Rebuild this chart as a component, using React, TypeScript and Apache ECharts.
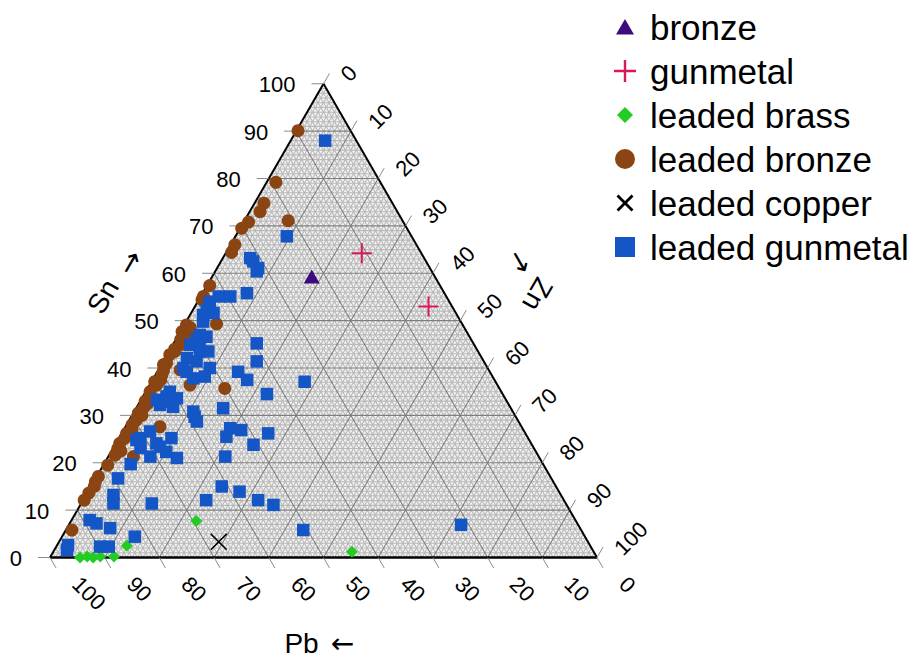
import { useEffect, useRef } from "react";
import * as echarts from "echarts";

// Alloy groups, in drawing order
const SERIES_NAMES = [
  "bronze",
  "gunmetal",
  "leaded brass",
  "leaded bronze",
  "leaded copper",
  "leaded gunmetal",
];

// Compositions as [Sn, Zn] in percent; Pb is the remainder
const bronze = [[59.3, 18.2]];
const gunmetal = [
  [64.2, 24.9],
  [53.0, 42.7],
];
const leadedBrass = [
  [7.7, 22.9], [2.5, 12.8], [1.9, 8.1], [0.0, 5.5], [0.2, 6.7],
  [0.0, 7.9], [0.2, 9.1], [0.2, 11.6], [1.2, 54.6],
];
const leadedBronze = [
  [90.1, 0.3], [79.2, 1.7], [74.8, 1.7], [73.0, 1.9], [71.1, 8.0],
  [70.8, 0.9], [69.5, 0.3], [66.0, 0.8], [64.4, 1.0], [57.4, 0.5],
  [55.1, 0.5], [54.4, 0.6], [49.3, 5.8], [49.1, 0.4], [48.5, 1.4],
  [47.7, 0.3], [47.0, 2.4], [46.0, 0.9], [45.0, 1.6], [44.0, 0.8],
  [43.5, 1.1], [42.8, 0.5], [41.0, 0.8], [40.7, 0.4], [39.6, 4.0],
  [39.5, 1.0], [38.5, 1.2], [37.5, 1.5], [37.1, 0.6], [36.4, 1.3],
  [36.4, 7.4], [35.7, 14.1], [35.0, 0.8], [34.0, 1.3], [33.0, 0.9],
  [32.5, 1.6], [31.5, 1.3], [30.5, 0.9], [30.0, 1.8], [29.0, 1.3],
  [28.0, 1.0], [27.6, 6.3], [27.0, 1.5], [26.2, 0.9], [25.2, 1.1],
  [24.1, 0.7], [23.0, 0.9], [22.5, 1.7], [21.6, 1.1], [21.3, 4.6],
  [19.5, 0.8], [17.1, 0.3], [16.0, 0.3], [15.0, 0.6], [13.6, 0.3],
  [12.1, 0.2], [5.8, 1.1],
];
const leadedCopper = [[3.3, 29.2]];
const leadedGunmetal = [
  [88.0, 6.3], [67.8, 9.4], [63.2, 5.0], [62.5, 5.9], [61.1, 7.5],
  [60.4, 7.6], [55.8, 8.1], [55.1, 5.4], [55.1, 3.3], [54.0, 2.2],
  [52.3, 2.5], [51.6, 4.1], [51.2, 2.4], [49.8, 3.1], [47.0, 3.9],
  [46.6, 5.3], [45.9, 3.8], [44.9, 3.2], [44.5, 5.1], [43.5, 5.7],
  [43.5, 7.2], [42.1, 4.0], [41.4, 6.1], [40.0, 9.2], [40.0, 4.4],
  [39.2, 5.4], [38.2, 9.2], [37.8, 7.3], [45.2, 15.2], [41.4, 17.1],
  [39.2, 14.8], [37.5, 17.3], [37.1, 28.0], [34.5, 22.4], [31.5, 15.9],
  [30.8, 10.8], [29.7, 11.6], [28.7, 12.5], [35.0, 4.4], [33.6, 6.4],
  [32.9, 4.2], [32.2, 4.0], [31.8, 6.6], [33.3, 2.9], [34.0, 4.3],
  [27.3, 19.3], [26.9, 21.5], [25.5, 19.5], [23.8, 25.3], [26.2, 26.8],
  [21.3, 21.4], [25.2, 3.9], [26.6, 5.0], [24.1, 7.4], [22.3, 10.1],
  [21.3, 7.7], [21.0, 12.7], [25.2, 9.6], [23.4, 8.4], [23.1, 5.0],
  [24.8, 3.4], [19.7, 4.9], [16.7, 4.1], [13.2, 5.0], [11.4, 5.9],
  [11.4, 12.9], [12.1, 22.5], [15.0, 23.9], [13.9, 27.7], [12.1, 32.0],
  [11.1, 35.3], [5.8, 43.4], [6.9, 71.7], [7.9, 3.3], [7.2, 4.9],
  [6.2, 7.9], [4.4, 13.3], [2.6, 2.0], [1.6, 2.3], [2.3, 8.0], [2.3, 9.6],
];

// Tick values shared by the three composition axes
const TICK_VALUES = [0, 10, 20, 30, 40, 50, 60, 70, 80, 90, 100];

// Axis titles and their direction arrows
const SN_TITLE = "Sn";
const PB_TITLE = "Pb";
const ZN_TITLE = "Zn";
const ARROW_RIGHT = "\u2192";
const ARROW_LEFT = "\u2190";

// Page and triangle geometry (pixels)
const W = 922;
const H = 661;
const ORIGIN_X = 50; // Pb = 100 corner
const ORIGIN_Y = 557.5;
const SIDE = 547;
const UX = SIDE / 100;
const UY = (SIDE * Math.sqrt(3)) / 2 / 100;

const FONT = '"Liberation Sans", Arial, Helvetica, sans-serif';
const ARROW_FONT = '"DejaVu Sans", sans-serif';

// ternary [Sn, Zn] -> cartesian [x, y] with x along the Pb–Zn side, y = Sn
const toXY = (d: number[]) => [d[1] + d[0] / 2, d[0]];

// Marker shapes
const SQUARE = "path://M0,0H10V10H0Z";
const TRIANGLE = "path://M5,0L10,8.7L0,8.7Z";
const DIAMOND = "path://M5,0L10,5L5,10L0,5Z";
const PLUS = "path://M4.5,0H5.5V4.5H10V5.5H5.5V10H4.5V5.5H0V4.5H4.5Z";
const CROSS =
  "path://M0,0.62L0.62,0L5,4.38L9.38,0L10,0.62L5.62,5L10,9.38L9.38,10L5,5.62L0.62,10L0,9.38L4.38,5Z";

// Legend icons drawn inside a 22x22 box
const LEGEND_ICONS = [
  "path://M0,0M22,22M11,3L20,18.5L2,18.5Z",
  "path://M9.8,0H12.2V9.8H22V12.2H12.2V22H9.8V12.2H0V9.8H9.8Z",
  "path://M0,0M22,22M11,3L19,11L11,19L3,11Z",
  "path://M0,0M22,22M11,1A10,10 0 1 1 11,21A10,10 0 1 1 11,1Z",
  "path://M0,0M22,22M2.5,4.5L4.5,2.5L11,9L17.5,2.5L19.5,4.5L13,11L19.5,17.5L17.5,19.5L11,13L4.5,19.5L2.5,17.5L9,11Z",
  "path://M0,0M22,22M1,1H21V21H1Z",
];

const COLORS = ["#3c0c7c", "#d81a5a", "#22cc22", "#8b4513", "#000000", "#1456c6"];

function renderFrame(_params: any, api: any) {
  const P = (sn: number, zn: number) => api.coord([zn + sn / 2, sn]);
  const kids: any[] = [];
  const seg = (a: number[], b: number[], stroke: string, lineWidth: number) => ({
    type: "line",
    shape: { x1: a[0], y1: a[1], x2: b[0], y2: b[1] },
    style: { stroke, lineWidth },
  });

  const A = P(0, 0); // Pb corner
  const B = P(0, 100); // Zn corner
  const C = P(100, 0); // Sn corner

  kids.push({ type: "polygon", shape: { points: [A, B, C] }, style: { fill: "#f2f2f2" } });

  // fine grid
  for (let v = 1; v < 100; v++) {
    if (v % 10 === 0) continue;
    const st = "#b9b9b9";
    kids.push(seg(P(v, 0), P(v, 100 - v), st, 1.1));
    kids.push(seg(P(0, v), P(100 - v, v), st, 1.1));
    kids.push(seg(P(0, 100 - v), P(100 - v, 0), st, 1.1));
  }
  // main grid
  for (let v = 10; v < 100; v += 10) {
    const st = "#7e7e7e";
    kids.push(seg(P(v, 0), P(v, 100 - v), st, 1.1));
    kids.push(seg(P(0, v), P(100 - v, v), st, 1.1));
    kids.push(seg(P(0, 100 - v), P(100 - v, 0), st, 1.1));
  }
  // outline
  kids.push(seg(A, C, "#000", 2));
  kids.push(seg(C, B, "#000", 2));
  kids.push(seg(A, B, "#000", 2.5));

  const TL = 12;
  const s3 = Math.sqrt(3) / 2;
  const label = (x: number, y: number, text: string, rotation: number, align: string) => ({
    type: "text",
    x,
    y,
    rotation,
    style: {
      text,
      fill: "#000",
      fontSize: 22,
      fontFamily: FONT,
      align,
      verticalAlign: "middle",
    },
  });

  TICK_VALUES.forEach((v) => {
    // Sn: left side, horizontal ticks
    const s = P(v, 0);
    kids.push(seg(s, [s[0] - TL, s[1]], "#8a8a8a", 1));
    kids.push(label(s[0] - 28, s[1] + 1, String(v), 0, "right"));
    // Zn: right side, ticks up-right
    const z = P(100 - v, v);
    kids.push(seg(z, [z[0] + TL * 0.5, z[1] - TL * s3], "#8a8a8a", 1));
    kids.push(label(z[0] + 21, z[1] - 6, String(v), Math.PI / 4, "left"));
    // Pb: bottom, ticks down-right
    const b = P(0, 100 - v);
    kids.push(seg(b, [b[0] + TL * 0.5, b[1] + TL * s3], "#8a8a8a", 1));
    kids.push(label(b[0] + 26, b[1] + 23, String(v), -Math.PI / 4, "left"));
  });

  const title = (
    x: number,
    y: number,
    text: string,
    rotation: number,
    font = FONT,
    size = 28
  ) => ({
    type: "text",
    x,
    y,
    rotation,
    style: {
      text,
      fill: "#000",
      fontSize: size,
      fontFamily: font,
      align: "center",
      verticalAlign: "middle",
    },
  });

  const at = (m: number[], n: number[], t: number[], dn: number, dt: number) => [
    m[0] + n[0] * dn + t[0] * dt,
    m[1] + n[1] * dn + t[1] * dt,
  ];

  // Sn title along the left side: outward normal and upward tangent
  const leftMid = P(50, 0);
  const ln = [-s3, -0.5];
  const lt = [0.5, -s3];
  const snPos = at(leftMid, ln, lt, 84.7, -21);
  kids.push(title(snPos[0], snPos[1], SN_TITLE, Math.PI / 3));
  const snArrow = at(leftMid, ln, lt, 78, 22);
  kids.push(title(snArrow[0], snArrow[1], ARROW_RIGHT, Math.PI / 3, ARROW_FONT, 28));

  // Pb title under the base
  const bottomMid = P(0, 50);
  kids.push(title(bottomMid[0] - 22, bottomMid[1] + 86, PB_TITLE, 0));
  kids.push(title(bottomMid[0] + 19, bottomMid[1] + 86, ARROW_LEFT, 0, ARROW_FONT, 28));

  // Zn title along the right side: outward normal and downward tangent
  const rightMid = P(50, 50);
  const rn = [s3, -0.5];
  const rt = [0.5, s3];
  const znPos = at(rightMid, rn, rt, 80, 16);
  kids.push(title(znPos[0], znPos[1], ZN_TITLE, (-2 * Math.PI) / 3));
  const znArrow = at(rightMid, rn, rt, 81.5, -21);
  kids.push(title(znArrow[0], znArrow[1], ARROW_RIGHT, -Math.PI / 3, ARROW_FONT, 28));

  return { type: "group", children: kids };
}

export default function App() {
  const ref = useRef<HTMLDivElement>(null);

  useEffect(() => {
    if (!ref.current) return;
    const chart = echarts.init(ref.current, undefined, { renderer: "svg" });

    const groups = [bronze, gunmetal, leadedBrass, leadedBronze, leadedCopper, leadedGunmetal];
    const symbols = [TRIANGLE, PLUS, DIAMOND, "circle", CROSS, SQUARE];
    const sizes: any[] = [[16, 14], 20, 12, 13, 17, 12.5];

    const pointSeries = groups.map((g, i) => ({
      name: SERIES_NAMES[i],
      type: "scatter",
      data: g.map(toXY),
      symbol: symbols[i],
      symbolSize: sizes[i],
      itemStyle: { color: COLORS[i], opacity: 1 },
      silent: true,
      z: 3,
    }));

    chart.setOption({
      animation: false,
      grid: { left: 0, top: 0, right: 0, bottom: 0 },
      xAxis: {
        type: "value",
        min: -ORIGIN_X / UX,
        max: (W - ORIGIN_X) / UX,
        show: false,
      },
      yAxis: {
        type: "value",
        min: -(H - ORIGIN_Y) / UY,
        max: ORIGIN_Y / UY,
        show: false,
      },
      legend: {
        orient: "vertical",
        left: 609,
        top: 4.5,
        itemWidth: 40,
        itemHeight: 22,
        itemGap: 9,
        selectedMode: false,
        textStyle: { fontSize: 35, lineHeight: 35, fontFamily: FONT, color: "#000" },
        data: SERIES_NAMES.map((n, i) => ({ name: n, icon: LEGEND_ICONS[i] })),
      },
      series: [
        {
          type: "custom",
          coordinateSystem: "cartesian2d",
          data: [[0, 0]],
          renderItem: renderFrame,
          silent: true,
          z: 1,
        },
        ...pointSeries,
      ],
    });

    return () => chart.dispose();
  }, []);

  return (
    <div
      ref={ref}
      style={{ position: "absolute", left: 0, top: 0, width: W, height: H, background: "#fff" }}
    />
  );
}
